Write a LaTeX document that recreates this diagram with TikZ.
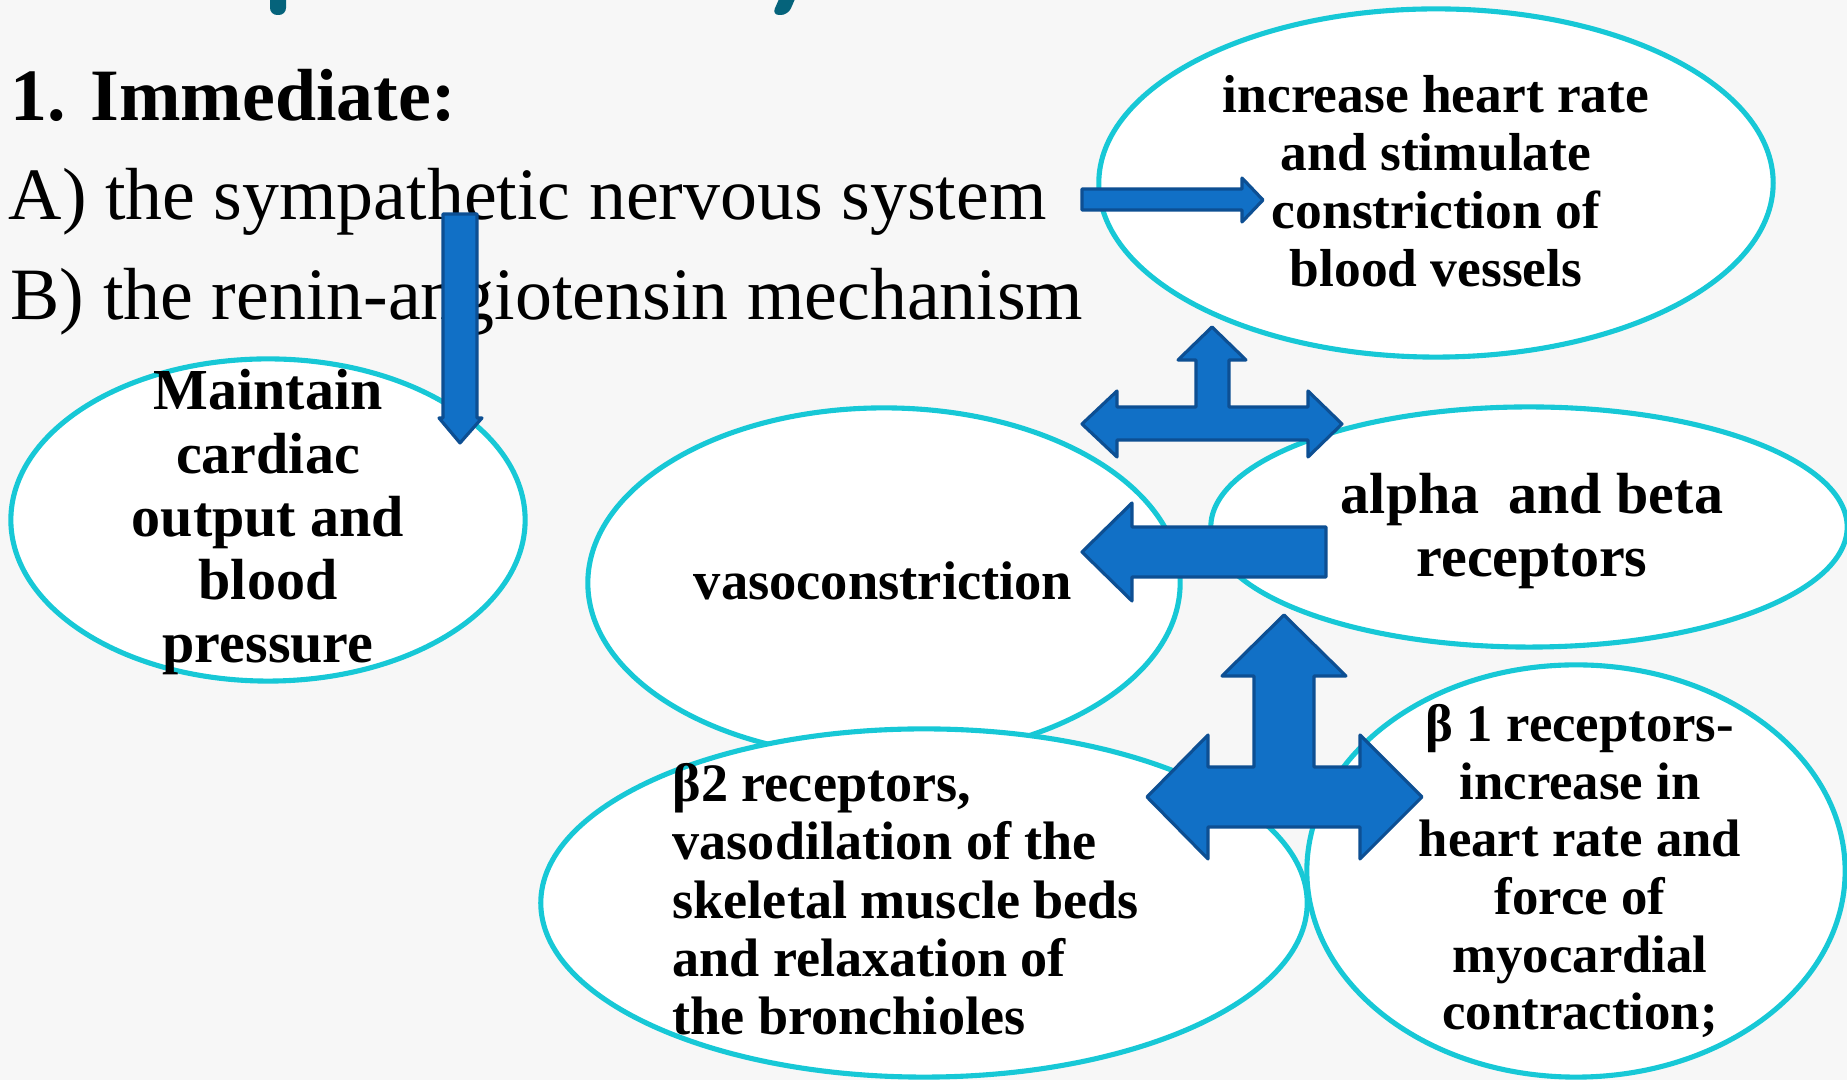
\documentclass[tikz,border=0pt]{standalone}
\usepackage{fontspec}
\setmainfont{Liberation Serif}
\usetikzlibrary{shapes.geometric}
\definecolor{ringcyan}{HTML}{17C8D6}
\definecolor{arrowblue}{HTML}{1170C6}
\definecolor{arrowedge}{HTML}{0D4F93}
\definecolor{titleteal}{HTML}{05637B}
\definecolor{slidebg}{HTML}{F7F7F7}
\begin{document}
\begin{tikzpicture}
    [x=0.01cm,y=-0.01cm,
     bubble/.style={ellipse,draw=ringcyan,line width=1.45pt,fill=white,inner sep=0pt},
     blockarrow/.style={fill=arrowblue,draw=arrowedge,line width=0.9pt,line join=round},
     bubbletext/.style={inner sep=0pt,align=center,anchor=base,font=\bfseries\fontsize{15}{16.4}\selectfont},
     bigtext/.style={bubbletext,font=\bfseries\fontsize{16.5}{18}\selectfont},
     slidetext/.style={inner sep=0pt,anchor=base west,font=\fontsize{21}{25}\selectfont}]
    \useasboundingbox (0,0) rectangle (1847,1080);
    \fill[slidebg] (0,0) rectangle (1847,1080);
    \fill[titleteal,rounded corners=2pt] (270,-10) rectangle (286,15);
    \fill[titleteal,rounded corners=2pt] (783,-10) -- (799,-10) -- (788,15) -- (772,15) -- cycle;
    \node[bubble,minimum width=5.14cm,minimum height=3.22cm] (cardiac) at (268,520) {};
    \node[bubble,minimum width=5.92cm,minimum height=3.50cm] (vaso) at (884,583) {};
    \node[bubble,minimum width=6.74cm,minimum height=3.48cm] (heartrate) at (1436,183) {};
    \node[bubble,minimum width=6.36cm,minimum height=2.40cm] (receptors) at (1529,527) {};
    \node[bubble,minimum width=5.38cm,minimum height=4.12cm] (betaone) at (1576,871) {};
    \node[bubble,minimum width=7.66cm,minimum height=3.48cm] (betatwo) at (924,903) {};
    \node[slidetext,font=\bfseries\fontsize{21}{25}\selectfont] (immediate) at (10,121) {1. Immediate:};
    \node[slidetext] (sympathetic) at (8,220) {A) the sympathetic nervous system};
    \node[slidetext] (renin) at (10,320) {B) the renin-angiotensin mechanism};
    \node[bubbletext,font=\bfseries\fontsize{15.2}{16.5}\selectfont] (heartratetext) at (1436,287) {increase heart rate\\and stimulate\\constriction of\\blood vessels};
    \node[bigtext] (cardiactext) at (268,663) {Maintain\\cardiac\\output and\\blood\\pressure};
    \node[bubbletext,font=\bfseries\fontsize{15.5}{17}\selectfont] (vasotext) at (883,600) {vasoconstriction};
    \node[bigtext] (receptorstext) at (1532,577) {alpha\ \ and beta\\receptors};
    \node[bubbletext,font=\bfseries\fontsize{15.4}{16.6}\selectfont,align=left,anchor=base west] (betatwotext) at (672,1035) {β2 receptors,\\vasodilation of the\\skeletal muscle beds\\and relaxation of\\the bronchioles};
    \node[bubbletext] (betaonetext) at (1580,1030) {β 1 receptors-\\increase in\\heart rate and\\force of\\myocardial\\contraction;};
    \filldraw[blockarrow] (1082,189) -- (1242,189) -- (1242,178) -- (1263,200) -- (1242,222) -- (1242,210) -- (1082,210) -- cycle;
    \filldraw[blockarrow] (443,214) -- (477,214) -- (477,418) -- (482,418) -- (460,443) -- (439,418) -- (443,418) -- cycle;
    \filldraw[blockarrow] (1082,424) -- (1117,391) -- (1117,407) -- (1196,407) -- (1196,360) -- (1178,360) -- (1212,327) -- (1246,360) -- (1229,360) -- (1229,407) -- (1308,407) -- (1308,391) -- (1342,424) -- (1308,457) -- (1308,440) -- (1117,440) -- (1117,457) -- cycle;
    \filldraw[blockarrow] (1082,552) -- (1132,503) -- (1132,527) -- (1326,527) -- (1326,577) -- (1132,577) -- (1132,601) -- cycle;
    \filldraw[blockarrow] (1147,797) -- (1208,735) -- (1208,767) -- (1254,767) -- (1254,676) -- (1222,676) -- (1284,615) -- (1346,676) -- (1314,676) -- (1314,767) -- (1360,767) -- (1360,735) -- (1422,797) -- (1360,859) -- (1360,827) -- (1208,827) -- (1208,859) -- cycle;
  \end{tikzpicture}
\end{document}
